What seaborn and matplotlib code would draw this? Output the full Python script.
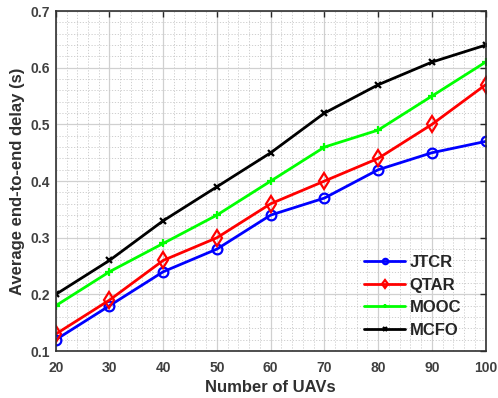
import numpy as np
import pandas as pd
import matplotlib
matplotlib.use("Agg")
import matplotlib.pyplot as plt
from matplotlib.ticker import MultipleLocator
import seaborn as sns

uavs = [20, 30, 40, 50, 60, 70, 80, 90, 100]
jtcr = [0.12, 0.18, 0.24, 0.28, 0.34, 0.37, 0.42, 0.45, 0.47]
qtar = [0.13, 0.19, 0.26, 0.30, 0.36, 0.40, 0.44, 0.50, 0.57]
mooc = [0.18, 0.24, 0.29, 0.34, 0.40, 0.46, 0.49, 0.55, 0.61]
mcfo = [0.20, 0.26, 0.33, 0.39, 0.45, 0.52, 0.57, 0.61, 0.64]

methods = ["JTCR", "QTAR", "MOOC", "MCFO"]
series = [jtcr, qtar, mooc, mcfo]
colors = {"JTCR": "#0000ff", "QTAR": "#ff0000", "MOOC": "#00ff00", "MCFO": "#000000"}
markers = {"JTCR": "o", "QTAR": "d", "MOOC": "+", "MCFO": "x"}
msizes = {"JTCR": 7, "QTAR": 8, "MOOC": 6, "MCFO": 5}

df = pd.DataFrame({
    "uavs": uavs * len(methods),
    "delay": sum(series, []),
    "method": sum([[m] * len(uavs) for m in methods], []),
})

sns.set_style("white")
plt.rcParams["font.family"] = ["Liberation Sans", "DejaVu Sans"]
plt.rcParams["font.weight"] = "bold"

fig = plt.figure(figsize=(4.98, 3.98), dpi=100)
ax = fig.add_axes([0.112, 0.118, 0.863, 0.854])

for m in methods:
    sub = df[df["method"] == m]
    sns.lineplot(data=sub, x="uavs", y="delay", ax=ax, color=colors[m],
                 marker=markers[m], markersize=msizes[m], markerfacecolor="none",
                 markeredgecolor=colors[m], markeredgewidth=1.6,
                 linewidth=2.0, label=m)

ax.set_xlim(20, 100)
ax.set_ylim(0.1, 0.7)
ax.xaxis.set_major_locator(MultipleLocator(10))
ax.xaxis.set_minor_locator(MultipleLocator(2))
ax.yaxis.set_minor_locator(MultipleLocator(0.02))
ax.set_yticks(np.arange(0.1, 0.71, 0.1))
ax.set_yticklabels(["0.1", "0.2", "0.3", "0.4", "0.5", "0.6", "0.7"])

ax.grid(which="major", color="#d0d0d0", linewidth=0.9, linestyle="-")
ax.grid(which="minor", color="#c8c8c8", linewidth=0.6, linestyle=(0, (1.5, 2)))
ax.set_axisbelow(True)

ax.tick_params(which="major", direction="in", length=4, width=1.0,
               top=True, right=True, labelsize=10, labelcolor="#404040")
ax.tick_params(axis="x", which="major", pad=7)
ax.tick_params(axis="y", which="major", pad=4)
ax.tick_params(which="minor", length=0)
for lbl in ax.get_xticklabels() + ax.get_yticklabels():
    lbl.set_fontweight("bold")
for s in ax.spines.values():
    s.set_color("#303030")
    s.set_linewidth(1.2)

ax.set_xlabel("Number of UAVs", fontsize=12, fontweight="bold", color="#303030", labelpad=4)
ax.set_ylabel("Average end-to-end delay (s)", fontsize=12, fontweight="bold", color="#303030", labelpad=4)

leg = ax.legend(loc="lower right", frameon=False, fontsize=12, handlelength=2.5,
                labelspacing=0.45, handletextpad=0.25, markerscale=0.55,
                bbox_to_anchor=(0.978, -0.005))
for t in leg.get_texts():
    t.set_fontweight("bold")

fig.savefig("out.png", dpi=100)
